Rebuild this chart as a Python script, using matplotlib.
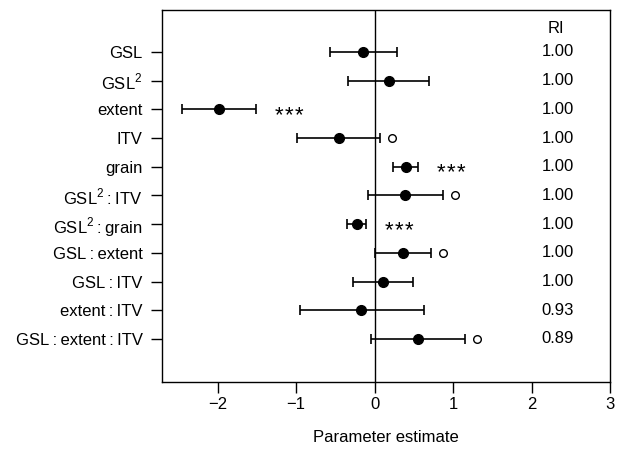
import matplotlib
matplotlib.use("Agg")
import matplotlib.pyplot as plt

plt.rcParams["font.family"] = ["Liberation Sans", "DejaVu Sans"]
plt.rcParams["mathtext.fontset"] = "custom"
plt.rcParams["mathtext.rm"] = "Liberation Sans"

terms = ["GSL", "GSL$^2$", "extent", "ITV", "grain", "GSL$^2$\u2009:\u2009ITV",
         "GSL$^2$\u2009:\u2009grain", "GSL\u2009:\u2009extent", "GSL\u2009:\u2009ITV",
         "extent\u2009:\u2009ITV", "GSL\u2009:\u2009extent\u2009:\u2009ITV"]
estimate = [-0.15, 0.18, -1.98, -0.45, 0.40, 0.39, -0.23, 0.36, 0.11, -0.17, 0.55]
lower = [-0.57, -0.34, -2.45, -0.99, 0.24, -0.08, -0.35, 0.00, -0.27, -0.95, -0.04]
upper = [0.28, 0.69, -1.51, 0.07, 0.55, 0.87, -0.11, 0.72, 0.49, 0.63, 1.15]
signif = ["", "", "***", ".", "***", ".", "***", ".", "", "", "."]
ri = ["1.00", "1.00", "1.00", "1.00", "1.00", "1.00", "1.00", "1.00", "1.00", "0.93", "0.89"]

n = len(terms)
ypos = [n - i for i in range(n)]

fig = plt.figure(figsize=(6.22, 4.49), dpi=100)
ax = fig.add_axes([0.2605, 0.1492, 0.7202, 0.8285])

ax.axvline(0, color="black", lw=1.0, zorder=1)

err_lo = [e - l for e, l in zip(estimate, lower)]
err_hi = [u - e for e, u in zip(estimate, upper)]
ax.errorbar(estimate, ypos, xerr=[err_lo, err_hi], fmt="o", color="black",
            ms=7, elinewidth=1.2, capsize=3.6, capthick=1.2, zorder=3)

# significance marks right of each interval
for y, u, s in zip(ypos, upper, signif):
    if s == "***":
        for k in (-1, 0, 1):
            ax.text(u + 0.42 + k * 0.125, y - 0.22, "*", ha="center", va="center",
                    fontsize=16)
    elif s == ".":
        ax.plot(u + 0.15, y, "o", mfc="white", mec="black", ms=5.5, mew=1.0)

ax.text(2.31, n + 0.8, "RI", ha="center", va="center", fontsize=12)
for y, r in zip(ypos, ri):
    ax.text(2.33, y, r, ha="center", va="center", fontsize=12)

ax.set_xlim(-2.71, 3.0)
ax.set_ylim(-0.5, n + 1.46)
ax.set_xticks([-2, -1, 0, 1, 2, 3])
ax.set_xticklabels(["\u22122", "\u22121", "0", "1", "2", "3"])
ax.set_yticks(ypos)
ax.set_yticklabels(terms)
ax.tick_params(axis="both", direction="out", length=8, width=1.0, labelsize=12)
ax.tick_params(axis="x", pad=3)
ax.tick_params(axis="y", pad=6)
for sp in ax.spines.values():
    sp.set_linewidth(1.0)

ax.set_xlabel("Parameter estimate", fontsize=12, labelpad=13)

fig.savefig("out.png", dpi=100)
